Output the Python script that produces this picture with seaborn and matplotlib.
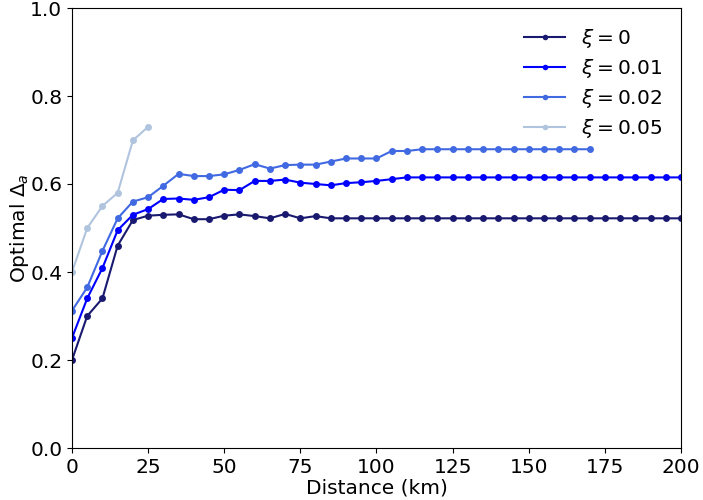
import numpy as np
import pandas as pd
import matplotlib
matplotlib.use("Agg")
import matplotlib.pyplot as plt
import seaborn as sns

# Distance grid (km), 5 km step
dist_full = list(range(0, 205, 5))

# Optimal Delta_a for each xi
xi0 = [0.200, 0.300, 0.340, 0.460, 0.518, 0.528, 0.530, 0.531, 0.520, 0.520,
       0.528, 0.531, 0.527, 0.522, 0.532, 0.522, 0.527] + [0.522] * 24
xi001 = [0.250, 0.340, 0.409, 0.495, 0.530, 0.543, 0.566, 0.567, 0.564, 0.570,
         0.587, 0.586, 0.607, 0.607, 0.610, 0.603, 0.600, 0.597, 0.602, 0.604,
         0.607, 0.611] + [0.615] * 19
xi002 = [0.312, 0.365, 0.448, 0.522, 0.560, 0.570, 0.596, 0.623, 0.618, 0.618,
         0.622, 0.632, 0.645, 0.635, 0.643, 0.644, 0.644, 0.651, 0.658, 0.658,
         0.658, 0.675, 0.675] + [0.679] * 12
xi005 = [0.400, 0.500, 0.550, 0.580, 0.699, 0.730]

labels = [r"$\xi = 0$", r"$\xi = 0.01$", r"$\xi = 0.02$", r"$\xi = 0.05$"]
series = [xi0, xi001, xi002, xi005]
colors = ["#191970", "#0000ff", "#4169e1", "#b0c4de"]

frames = []
for lab, vals in zip(labels, series):
    frames.append(pd.DataFrame({"Distance": dist_full[:len(vals)],
                                "Delta": vals, "xi": lab}))
df = pd.concat(frames, ignore_index=True)

plt.rcParams["font.family"] = ["DejaVu Sans"]
fs = 14.5

fig = plt.figure(figsize=(7.03, 5.00), dpi=100)
ax = fig.add_axes([0.1024, 0.104, 0.8663, 0.880])

sns.lineplot(data=df, x="Distance", y="Delta", hue="xi", hue_order=labels,
             palette=dict(zip(labels, colors)), marker="o", markersize=5,
             markeredgewidth=0, linewidth=1.5, ax=ax)

ax.set_xlim(0, 200)
ax.set_ylim(0, 1.0)
ax.set_xticks(range(0, 201, 25))
ax.set_yticks(np.arange(0, 1.01, 0.2))
ax.set_yticklabels([f"{v:.1f}" for v in np.arange(0, 1.01, 0.2)])
ax.tick_params(labelsize=fs)
ax.set_xlabel("Distance (km)", fontsize=fs, labelpad=1)
ax.set_ylabel(r"Optimal $\Delta_a$", fontsize=fs, labelpad=-0.5)

leg = ax.legend(loc="upper right", fontsize=fs, frameon=False,
                handlelength=2.0, borderaxespad=0.55, labelspacing=0.35)
for h in leg.get_lines():
    h.set_markersize(4)

fig.savefig("out.png", dpi=100)
